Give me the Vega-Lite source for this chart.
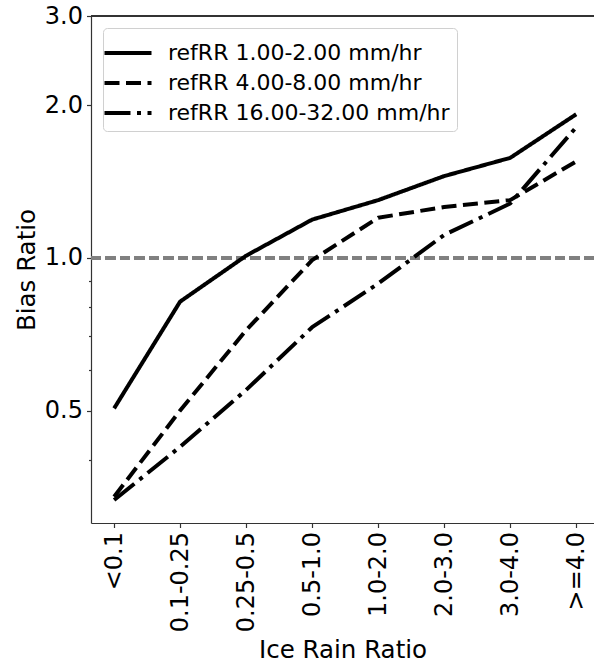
{
  "$schema": "https://vega.github.io/schema/vega-lite/v6.json",
  "autosize": {"type": "none"},
  "padding": {"left": 91, "top": 16, "right": 0, "bottom": 142},
  "width": 503,
  "height": 507,
  "background": "white",
  "config": {
    "view": {"stroke": null},
    "font": "DejaVu Sans",
    "axis": {"grid": false, "domainColor": "#333", "domainWidth": 1.2, "tickColor": "#333", "tickWidth": 1.2, "labelColor": "black", "titleColor": "black", "labelFont": "DejaVu Sans", "titleFont": "DejaVu Sans", "titleFontWeight": "normal"}
  },
  "data": {"values": [
    {"ratio": "<0.1", "series": "refRR 1.00-2.00 mm/hr", "bias": 0.505},
    {"ratio": "0.1-0.25", "series": "refRR 1.00-2.00 mm/hr", "bias": 0.82},
    {"ratio": "0.25-0.5", "series": "refRR 1.00-2.00 mm/hr", "bias": 1.01},
    {"ratio": "0.5-1.0", "series": "refRR 1.00-2.00 mm/hr", "bias": 1.19},
    {"ratio": "1.0-2.0", "series": "refRR 1.00-2.00 mm/hr", "bias": 1.30},
    {"ratio": "2.0-3.0", "series": "refRR 1.00-2.00 mm/hr", "bias": 1.45},
    {"ratio": "3.0-4.0", "series": "refRR 1.00-2.00 mm/hr", "bias": 1.575},
    {"ratio": ">=4.0", "series": "refRR 1.00-2.00 mm/hr", "bias": 1.92},
    {"ratio": "<0.1", "series": "refRR 4.00-8.00 mm/hr", "bias": 0.338},
    {"ratio": "0.1-0.25", "series": "refRR 4.00-8.00 mm/hr", "bias": 0.50},
    {"ratio": "0.25-0.5", "series": "refRR 4.00-8.00 mm/hr", "bias": 0.72},
    {"ratio": "0.5-1.0", "series": "refRR 4.00-8.00 mm/hr", "bias": 0.99},
    {"ratio": "1.0-2.0", "series": "refRR 4.00-8.00 mm/hr", "bias": 1.20},
    {"ratio": "2.0-3.0", "series": "refRR 4.00-8.00 mm/hr", "bias": 1.26},
    {"ratio": "3.0-4.0", "series": "refRR 4.00-8.00 mm/hr", "bias": 1.30},
    {"ratio": ">=4.0", "series": "refRR 4.00-8.00 mm/hr", "bias": 1.55},
    {"ratio": "<0.1", "series": "refRR 16.00-32.00 mm/hr", "bias": 0.333},
    {"ratio": "0.1-0.25", "series": "refRR 16.00-32.00 mm/hr", "bias": 0.424},
    {"ratio": "0.25-0.5", "series": "refRR 16.00-32.00 mm/hr", "bias": 0.549},
    {"ratio": "0.5-1.0", "series": "refRR 16.00-32.00 mm/hr", "bias": 0.73},
    {"ratio": "1.0-2.0", "series": "refRR 16.00-32.00 mm/hr", "bias": 0.89},
    {"ratio": "2.0-3.0", "series": "refRR 16.00-32.00 mm/hr", "bias": 1.11},
    {"ratio": "3.0-4.0", "series": "refRR 16.00-32.00 mm/hr", "bias": 1.28},
    {"ratio": ">=4.0", "series": "refRR 16.00-32.00 mm/hr", "bias": 1.81}
  ]},
  "layer": [
    {
      "mark": {"type": "rule", "color": "#808080", "strokeWidth": 2.5, "strokeDash": [10, 4.5]},
      "encoding": {"y": {"datum": 1}}
    },
    {
      "mark": {"type": "rule", "color": "#333", "strokeWidth": 1.2},
      "encoding": {"y": {"datum": 3}}
    },
    {
      "mark": {"type": "line", "color": "black", "strokeWidth": 4, "strokeCap": "butt", "strokeJoin": "round"},
      "encoding": {
        "x": {
          "field": "ratio", "type": "ordinal",
          "sort": ["<0.1", "0.1-0.25", "0.25-0.5", "0.5-1.0", "1.0-2.0", "2.0-3.0", "3.0-4.0", ">=4.0"],
          "scale": {"type": "point", "padding": 0.31, "align": 0.565},
          "axis": {"title": "Ice Rain Ratio", "titleFontSize": 24.5, "titlePadding": 7, "labelFontSize": 24, "labelAngle": 270, "labelPadding": 4, "tickSize": 4.5}
        },
        "y": {
          "field": "bias", "type": "quantitative",
          "scale": {"type": "log", "domain": [0.3, 3], "nice": false, "zero": false},
          "axis": {
            "title": "Bias Ratio", "titleFontSize": 24.5, "titlePadding": 5,
            "values": [0.4, 0.5, 0.6, 0.7, 0.8, 0.9, 1, 2, 3],
            "labelExpr": "(datum.value == 0.5 || datum.value == 1 || datum.value == 2 || datum.value == 3) ? format(datum.value, '.1f') : ''",
            "labelFontSize": 24, "labelPadding": 4,
            "tickSize": {"condition": {"test": "datum.value == 0.5 || datum.value == 1 || datum.value == 2 || datum.value == 3", "value": 4.5}, "value": 2.5}
          }
        },
        "strokeDash": {
          "field": "series", "type": "nominal",
          "scale": {"domain": ["refRR 1.00-2.00 mm/hr", "refRR 4.00-8.00 mm/hr", "refRR 16.00-32.00 mm/hr"], "range": [[1, 0], [15, 6.5], [26, 6.5, 4, 6.5]]},
          "legend": {
            "title": null, "orient": "none", "legendX": 12, "legendY": 12,
            "fillColor": "rgba(255,255,255,0.8)", "strokeColor": "#d0d0d0", "cornerRadius": 4, "padding": 7,
            "labelFontSize": 22, "labelFont": "DejaVu Sans", "labelColor": "black", "labelLimit": 500,
            "symbolType": "M-1.5,0L1.5,0", "symbolSize": 982, "symbolStrokeWidth": 4, "symbolStrokeColor": "black", "symbolFillColor": "transparent",
            "labelOffset": 22, "rowPadding": 1
          }
        }
      }
    }
  ]
}
